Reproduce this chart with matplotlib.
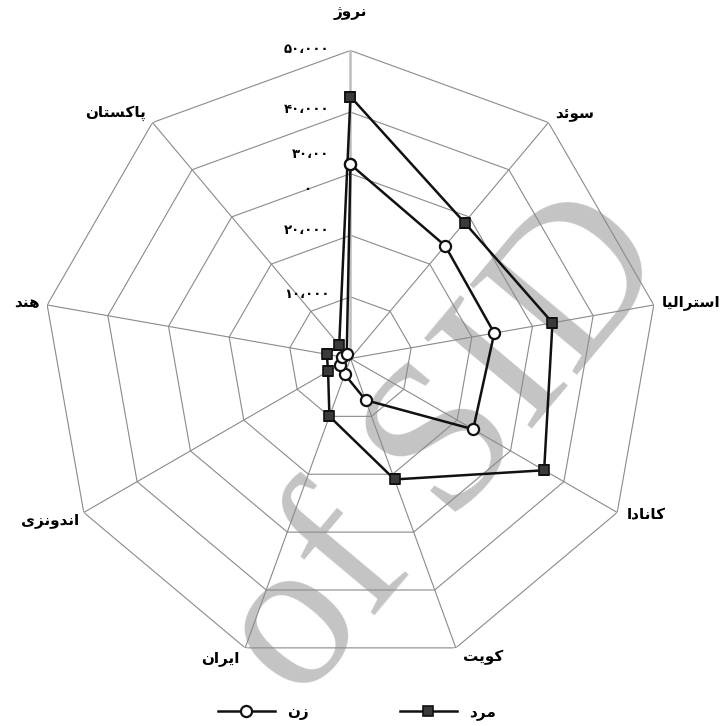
import matplotlib
matplotlib.use('Agg')
import matplotlib.pyplot as plt
import numpy as np
from matplotlib.transforms import Bbox, TransformedBbox

# data
categories = ['نروژ', 'سوئد', 'استرالیا', 'کانادا', 'کویت', 'ایران', 'اندونزی', 'هند', 'پاکستان']
male = [42500, 28800, 33300, 36300, 20900, 10000, 4200, 3900, 2850]
female = [31500, 23900, 23700, 23000, 7200, 2750, 2050, 1450, 950]
ring_values = [10000, 20000, 30000, 40000, 50000]
ring_labels = ['۱۰،۰۰۰', '۲۰،۰۰۰', '۳۰،۰۰', '۴۰،۰۰۰', '۵۰،۰۰۰']
series_names = ['مرد', 'زن']

# matplotlib has no arabic shaping, so pick the joined forms by hand
# (isolated, final, initial, medial)
FORMS = {
    'ا': (0xFE8D, 0xFE8E, None, None),
    'د': (0xFEA9, 0xFEAA, None, None),
    'ر': (0xFEAD, 0xFEAE, None, None),
    'ز': (0xFEAF, 0xFEB0, None, None),
    'ژ': (0xFB8A, 0xFB8B, None, None),
    'و': (0xFEED, 0xFEEE, None, None),
    'ت': (0xFE95, 0xFE96, 0xFE97, 0xFE98),
    'س': (0xFEB1, 0xFEB2, 0xFEB3, 0xFEB4),
    'ل': (0xFEDD, 0xFEDE, 0xFEDF, 0xFEE0),
    'م': (0xFEE1, 0xFEE2, 0xFEE3, 0xFEE4),
    'ن': (0xFEE5, 0xFEE6, 0xFEE7, 0xFEE8),
    'ه': (0xFEE9, 0xFEEA, 0xFEEB, 0xFEEC),
    'ی': (0xFBFC, 0xFBFD, 0xFBFE, 0xFBFF),
    'ک': (0xFB8E, 0xFB8F, 0xFB90, 0xFB91),
    'پ': (0xFB56, 0xFB57, 0xFB58, 0xFB59),
    'ئ': (0xFE89, 0xFE8A, 0xFE8B, 0xFE8C),
}


def shape(s):
    out = []
    for i, ch in enumerate(s):
        f = FORMS.get(ch)
        if f is None:
            out.append(ch)
            continue
        prev = s[i - 1] if i > 0 else None
        nxt = s[i + 1] if i + 1 < len(s) else None
        jp = prev in FORMS and FORMS[prev][2] is not None
        jn = f[2] is not None and nxt in FORMS
        if jp and jn:
            c = f[3]
        elif jp:
            c = f[1]
        elif jn:
            c = f[2]
        else:
            c = f[0]
        out.append(chr(c))
    return ''.join(reversed(out))


plt.rcParams['font.family'] = ['DejaVu Sans']

fig = plt.figure(figsize=(7.24, 7.26), dpi=100)
ax = fig.add_axes([0.0587, 0.0820, 0.8508, 0.8485], projection='polar')
ax.set_theta_zero_location('N')
ax.set_theta_direction(-1)
ax.set_ylim(0, 50000)
ax.axis('off')

n = len(categories)
angles = np.arange(n) * 2 * np.pi / n
closed = np.append(angles, angles[0])

# web grid
for v in ring_values:
    ax.plot(closed, [v] * (n + 1), color='#8a8a8a', lw=0.8, zorder=1)
for i, a in enumerate(angles):
    if i == 0:
        ax.plot([a, a], [0, 50000], color='#bdbdbd', lw=1.8, zorder=1)
    else:
        ax.plot([a, a], [0, 50000], color='#8a8a8a', lw=0.8, zorder=1)

# watermark
wm = ax.text(300 / 724, 1 - 705 / 726, 'of SID', transform=fig.transFigure,
             rotation=50, rotation_mode='anchor', ha='left', va='baseline',
             fontsize=155, family='Liberation Serif', color='#c4c4c4', zorder=0.5)
wm2 = ax.text(292 / 724, 1 - 705 / 726, 'Archive ', transform=fig.transFigure,
              rotation=50, rotation_mode='anchor', ha='right', va='baseline',
              fontsize=155, family='Liberation Serif', color='#c4c4c4', zorder=0.5)
clip = TransformedBbox(Bbox([[0, 38 / 726], [1, 1]]), fig.transFigure)
for t in (wm, wm2):
    t.set_clip_box(clip)
    t.set_clip_on(True)

l_male, = ax.plot(closed, male + male[:1], color='#111111', lw=1.8,
                  marker='s', ms=6.5, mfc='#3a3a3a', mec='#111111', mew=1.2, zorder=4)
l_female, = ax.plot(closed, female + female[:1], color='#111111', lw=1.8,
                    marker='o', ms=8, mfc='white', mec='#111111', mew=1.6, zorder=5)

# category labels around the web
lab_off = [(0, 27), (5, 5.5), (6, 1.5), (7, -2), (5, -7), (-4, -8), (-3, -5.5), (-5, 1.5), (-5, 7)]
lab_ha = ['center', 'left', 'left', 'left', 'left', 'right', 'right', 'right', 'right']
for a, cat, off, ha in zip(angles, categories, lab_off, lab_ha):
    ax.annotate(shape(cat), xy=(a, 50000), xytext=off, textcoords='offset points',
                ha=ha, va='center', fontsize=11, fontweight='bold')

# value labels on the top axis
tick_off = [(-15, 2), (-15, 3.6), (-15, 14), (-15, 2), (-15, 0.5)]
for v, lab, off in zip(ring_values, ring_labels, tick_off):
    ax.annotate(lab, xy=(0, v), xytext=off, textcoords='offset points',
                ha='right', va='center', fontsize=9.5, fontweight='bold')
ax.annotate('۰', xy=(0, 30000), xytext=(-28, -11.7), textcoords='offset points',
            ha='right', va='center', fontsize=9.5, fontweight='bold')

fig.legend(handles=[l_female, l_male], labels=[shape(series_names[1]), shape(series_names[0])],
           loc='center', bbox_to_anchor=(357 / 724, 1 - 712 / 726), ncol=2, frameon=False,
           handlelength=3.7, columnspacing=6, prop={'weight': 'bold', 'size': 11})

fig.savefig('out.png', dpi=100)
